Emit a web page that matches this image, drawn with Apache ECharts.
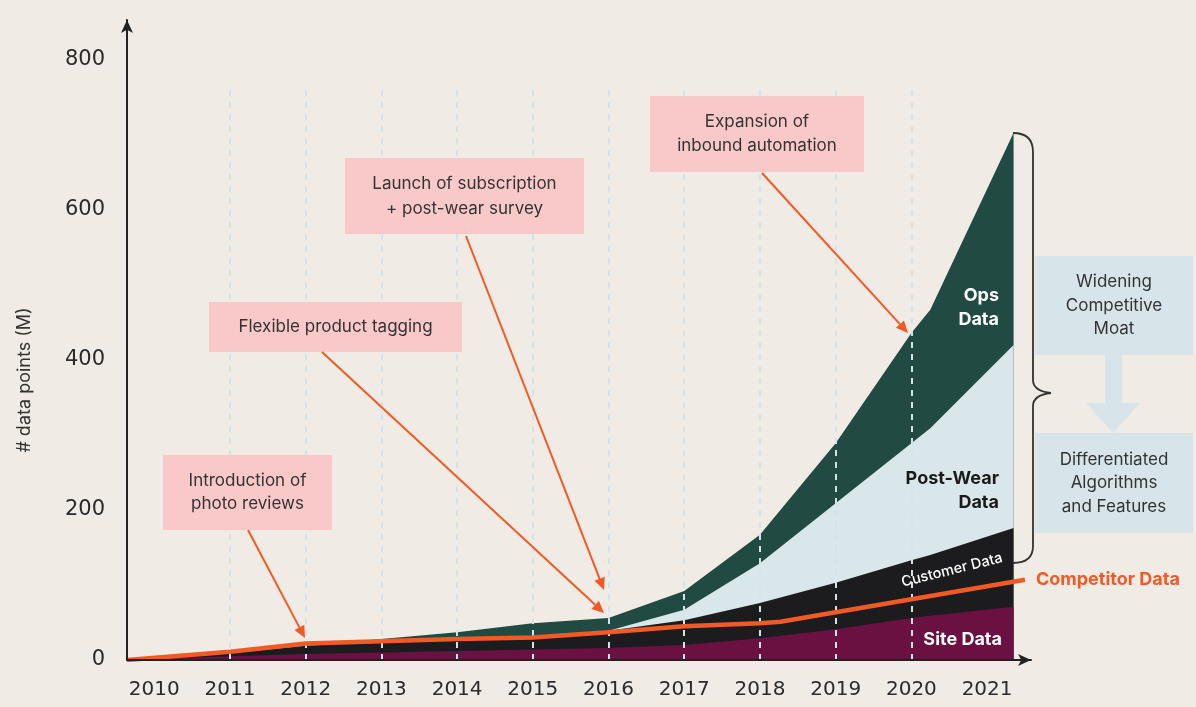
<!DOCTYPE html>
<html>
<head>
<meta charset="utf-8">
<script src="https://cdn.jsdelivr.net/npm/echarts@6/dist/echarts.min.js"></script>
<style>
  html, body { margin: 0; padding: 0; background: #f0ebe4; }
  #chart { width: 1196px; height: 707px; }
</style>
</head>
<body>
<div id="chart"></div>
<script>
// Shared x positions (decimal years) for the stacked data layers
const years = [2009.64, 2011, 2012, 2013, 2014, 2015, 2016, 2017, 2018, 2019, 2020, 2020.25, 2021.35];
// Layer thickness, millions of data points
const siteData     = [0, 5, 8, 10, 12, 14, 16, 20, 29, 41, 56, 59, 71];
const customerData = [0, 4, 11, 14, 14, 15, 23, 33, 47, 62, 77, 81, 105];
const postWearData = [0, 0, 0, 0, 0, 0, 0, 14, 53, 106, 156, 169, 244];
const opsData      = [0, 0, 0, 4, 11, 20, 17, 25, 38, 80, 147, 158, 283];
// Competitor total (not stacked)
const competitorYears = [2009.64, 2011, 2012, 2013, 2014, 2015, 2016, 2017, 2018, 2018.27, 2021.5];
const competitorData  = [0, 11, 22, 25, 28, 30, 37, 45, 49, 51, 107];
// Axis labels and guide lines
const yearLabels = [2010, 2011, 2012, 2013, 2014, 2015, 2016, 2017, 2018, 2019, 2020, 2021];
const yTicks = [0, 200, 400, 600, 800];
const guideYears = [2011, 2012, 2013, 2014, 2015, 2016, 2017, 2018, 2019, 2020];
const guideTop = 760;

const FONT = 'Inter, "Noto Sans", sans-serif';
const TICK_FONT = '"DejaVu Sans", Inter, sans-serif';
const pair = (xs, ys) => xs.map((x, i) => [x, ys[i]]);

// Running totals of the layers, bottom to top; each area fills down to zero
// and the higher totals are painted first so the lower layers sit on top.
const layers = [siteData, customerData, postWearData, opsData];
const totals = [];
layers.forEach((layer, k) => {
  totals.push(layer.map((v, i) => v + (k ? totals[k - 1][i] : 0)));
});

function areaSeries(name, data, color, z) {
  return {
    name, type: 'line', data: pair(years, data),
    showSymbol: false, symbol: 'none', smooth: false,
    lineStyle: { width: 0 }, areaStyle: { color, opacity: 1, origin: 'start' },
    z, silent: true
  };
}

// Overlay elements are lifted above the plotted series
function lift(el, z) {
  el.z = z;
  if (el.children) el.children.forEach(c => lift(c, z));
  return el;
}

function note(x, y, w, h, lines, fill, lh) {
  return {
    type: 'group', children: [
      { type: 'rect', shape: { x, y, width: w, height: h }, style: { fill } },
      { type: 'text', style: {
          text: lines.join('\n'), x: x + w / 2, y: y + h / 2,
          align: 'center', verticalAlign: 'middle', lineHeight: lh,
          font: '400 17px ' + FONT, fill: '#333' } }
    ]
  };
}

function arrow(x1, y1, x2, y2) {
  const a = Math.atan2(y2 - y1, x2 - x1);
  const L = 12, W = 5.5;
  const bx = x2 - L * Math.cos(a), by = y2 - L * Math.sin(a);
  const px = -Math.sin(a) * W, py = Math.cos(a) * W;
  return {
    type: 'group', children: [
      { type: 'line', shape: { x1, y1, x2: bx, y2: by }, style: { stroke: '#f15a24', lineWidth: 2 } },
      { type: 'polygon', shape: { points: [[x2, y2], [bx + px, by + py], [bx - px, by - py]] }, style: { fill: '#f15a24' } }
    ]
  };
}

function areaLabel(text, x, y, color, size, weight, align, rot) {
  return { type: 'text', x, y, rotation: rot || 0, style: {
    text, x: 0, y: 0, align: align || 'right', verticalAlign: 'middle',
    font: (weight || 700) + ' ' + size + 'px ' + FONT, fill: color, lineHeight: 24 } };
}

// Curly brace built from straight and quadratic segments
const braceStyle = { stroke: '#333', lineWidth: 1.8, fill: null };
function curve(x1, y1, cx, cy, x2, y2) {
  return { type: 'bezierCurve', shape: { x1, y1, x2, y2, cpx1: cx, cpy1: cy }, style: braceStyle };
}
function seg(x1, y1, x2, y2) {
  return { type: 'line', shape: { x1, y1, x2, y2 }, style: braceStyle };
}
const brace = {
  type: 'group', children: [
    curve(1013, 133, 1033, 133, 1033, 152),
    seg(1033, 152, 1033, 380),
    curve(1033, 380, 1033, 391, 1051, 393),
    curve(1051, 393, 1033, 395, 1033, 406),
    seg(1033, 406, 1033, 546),
    curve(1033, 546, 1033, 563, 1013, 563)
  ]
};

const overlay = [
  { type: 'text', x: 25, y: 380, rotation: Math.PI / 2, style: {
      text: '# data points (M)', x: 0, y: 0, align: 'center', verticalAlign: 'middle',
      font: '400 18px ' + FONT, fill: '#333' } },
  note(163, 455, 169, 75, ['Introduction of', 'photo reviews'], '#f8c9c8', 23),
  note(209, 302, 253, 50, ['Flexible product tagging'], '#f8c9c8', 23),
  note(345, 158, 239, 76, ['Launch of subscription', '+ post-wear survey'], '#f8c9c8', 25),
  note(650, 96, 214, 76, ['Expansion of', 'inbound automation'], '#f8c9c8', 24),
  arrow(248, 530, 305, 638),
  arrow(322, 352, 604, 613),
  arrow(466, 236, 604, 590),
  arrow(762, 173, 908, 333),
  note(1035, 256, 158, 99, ['Widening', 'Competitive', 'Moat'], '#d7e5ea', 23.5),
  { type: 'polygon', shape: { points: [[1105, 355], [1122, 355], [1122, 403], [1140, 403], [1113, 433], [1086, 403], [1105, 403]] },
    style: { fill: '#d7e5ea' } },
  note(1035, 433, 158, 100, ['Differentiated', 'Algorithms', 'and Features'], '#d7e5ea', 23.5),
  brace,
  areaLabel('Ops\nData', 999, 308, '#ffffff', 18, 700),
  areaLabel('Post-Wear\nData', 999, 491, '#1a1a1a', 18, 700),
  areaLabel('Site Data', 1002, 640, '#ffffff', 18, 700),
  areaLabel('Customer Data', 952, 570, '#ffffff', 14.5, 500, 'center', 0.245)
].map(el => lift(el, 100));

const chart = echarts.init(document.getElementById('chart'));
chart.setOption({
  animation: false,
  backgroundColor: '#f0ebe4',
  grid: { left: 127, right: 165, top: 20, bottom: 47, containLabel: false },
  xAxis: {
    type: 'value', min: 2009.64, max: 2021.58, z: 6,
    axisLine: { show: true, symbol: ['none', 'arrow'], symbolSize: [9, 13], lineStyle: { color: '#222', width: 2 } },
    axisTick: { show: false },
    splitLine: { show: false },
    axisLabel: { customValues: yearLabels, margin: 20, color: '#2b2b2b', fontSize: 20, fontFamily: TICK_FONT, formatter: v => String(v) }
  },
  yAxis: {
    type: 'value', min: 0, max: 853.33, z: 6,
    axisLine: { show: true, symbol: ['none', 'arrow'], symbolSize: [9, 13], lineStyle: { color: '#222', width: 2 } },
    axisTick: { show: false },
    splitLine: { show: false },
    axisLabel: { customValues: yTicks, margin: 22, color: '#2b2b2b', fontSize: 21, fontFamily: TICK_FONT }
  },
  series: [
    areaSeries('Ops Data', totals[3], '#214a43', 1),
    areaSeries('Post-Wear Data', totals[2], '#d9e6ea', 2),
    areaSeries('Customer Data', totals[1], '#1c1c1e', 3),
    areaSeries('Site Data', totals[0], '#6a1141', 4),
    {
      name: 'Competitor Data', type: 'line', data: pair(competitorYears, competitorData),
      showSymbol: false, symbol: 'none', z: 5, silent: true,
      lineStyle: { color: '#f15a24', width: 4.5 },
      endLabel: { show: true, formatter: 'Competitor Data', distance: 11,
        color: '#f15a24', fontSize: 18, fontWeight: 700, fontFamily: FONT }
    },
    {
      name: 'guides', type: 'line', data: guideYears.map(y => [y, 0]), silent: true, z: 6,
      showSymbol: false, symbol: 'none', lineStyle: { opacity: 0 },
      markLine: {
        silent: true, symbol: ['none', 'none'], label: { show: false },
        lineStyle: { color: '#d3e3ea', width: 2, type: [6, 6] },
        emphasis: { disabled: true },
        data: guideYears.map(y => [{ coord: [y, 0] }, { coord: [y, guideTop] }])
      }
    }
  ],
  graphic: overlay
});
</script>
</body>
</html>
